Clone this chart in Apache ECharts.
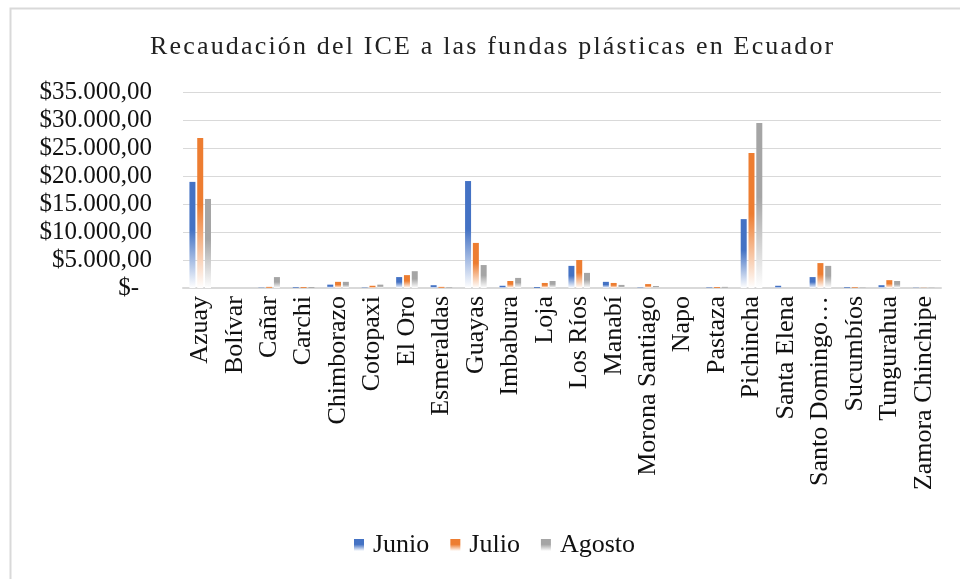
<!DOCTYPE html>
<html>
<head>
<meta charset="utf-8">
<script src="https://cdn.jsdelivr.net/npm/echarts@6/dist/echarts.min.js"></script>
<style>
  html, body { margin: 0; padding: 0; background: #fff; }
  #chart { width: 960px; height: 579px; }
</style>
</head>
<body>
<div id="chart"></div>
<script>
  var provincias = ['Azuay', 'Bolívar', 'Cañar', 'Carchi', 'Chimborazo', 'Cotopaxi', 'El Oro',
    'Esmeraldas', 'Guayas', 'Imbabura', 'Loja', 'Los Ríos', 'Manabí', 'Morona Santiago', 'Napo',
    'Pastaza', 'Pichincha', 'Santa Elena', 'Santo Domingo de los Tsáchilas', 'Sucumbíos',
    'Tungurahua', 'Zamora Chinchipe'];
  var junio = [18950, 0, 50, 120, 600, 60, 1950, 500, 19100, 400, 150, 3950, 1100, 60, 0,
    80, 12300, 400, 1950, 120, 500, 40];
  var julio = [26800, 0, 200, 150, 1100, 400, 2300, 200, 8050, 1250, 900, 5000, 900, 700, 0,
    150, 24100, 0, 4450, 120, 1400, 30];
  var agosto = [15900, 0, 1950, 150, 1100, 600, 3000, 100, 4100, 1800, 1250, 2700, 550, 350, 0,
    200, 29450, 0, 3950, 60, 1250, 40];

  var font = '"Liberation Serif", "Times New Roman", serif';
  var tituloTexto = 'Recaudación del ICE a las fundas plásticas en Ecuador';

  function fade(c, end) {
    return new echarts.graphic.LinearGradient(0, 0, 0, 1, [
      { offset: 0, color: c },
      { offset: 0.45, color: c },
      { offset: 1, color: end }
    ]);
  }

  function money(v) {
    if (v === 0) return '{z|$-}';
    var s = String(v).replace(/\B(?=(\d{3})+(?!\d))/g, '.');
    return '$' + s + ',00';
  }

  // Excel cuts long category names at a word and adds an ellipsis
  function corta(name) {
    if (name.length <= 17) return name;
    var s = name.slice(0, 16);
    return s.slice(0, s.lastIndexOf(' ')) + '…';
  }

  var chart = echarts.init(document.getElementById('chart'));
  var option = {
    animation: false,
    title: {
      // hair spaces imitate the expanded character spacing of the title
      text: tituloTexto.split('').join('\u200A'),
      left: 145,
      top: 29,
      textStyle: { fontFamily: font, fontSize: 26, fontWeight: 'normal', color: '#222' }
    },
    graphic: [{
      type: 'rect',
      left: 8, top: 6,
      shape: { width: 1000, height: 1000 },
      style: { fill: 'none', stroke: '#d9d9d9', lineWidth: 2 }
    }],
    legend: {
      bottom: 16,
      left: 349,
      itemWidth: 10,
      itemHeight: 12,
      itemGap: 21,
      icon: 'rect',
      textStyle: { fontFamily: font, fontSize: 26, color: '#111', padding: [0, 0, 0, 4] },
      data: ['Junio', 'Julio', 'Agosto']
    },
    grid: { left: 183, right: 19, top: 92, bottom: 291 },
    xAxis: {
      type: 'category',
      data: provincias,
      axisLine: { lineStyle: { color: '#d9d9d9', width: 2 } },
      axisTick: { show: false },
      axisLabel: {
        rotate: 90,
        margin: 8,
        interval: 0,
        formatter: corta,
        fontFamily: font,
        fontSize: 26,
        color: '#111'
      }
    },
    yAxis: {
      type: 'value',
      min: 0,
      max: 35000,
      interval: 5000,
      axisLine: { show: false },
      axisTick: { show: false },
      splitLine: { lineStyle: { color: '#d9d9d9', width: 1 } },
      axisLabel: {
        margin: 31,
        fontFamily: font,
        fontSize: 25,
        color: '#111',
        formatter: money,
        rich: { z: { fontFamily: font, fontSize: 25, color: '#111', padding: [0, 13, 0, 0] } }
      }
    },
    series: [
      { name: 'Junio', type: 'bar', data: junio, barWidth: 6, barGap: '30%',
        itemStyle: { color: fade('#4472C4', '#ffffff') } },
      { name: 'Julio', type: 'bar', data: julio, barWidth: 6, barGap: '30%',
        itemStyle: { color: fade('#ED7D31', '#ffffff') } },
      { name: 'Agosto', type: 'bar', data: agosto, barWidth: 6, barGap: '30%',
        itemStyle: { color: fade('#A5A5A5', '#ffffff') } }
    ]
  };
  chart.setOption(option);
</script>
</body>
</html>
